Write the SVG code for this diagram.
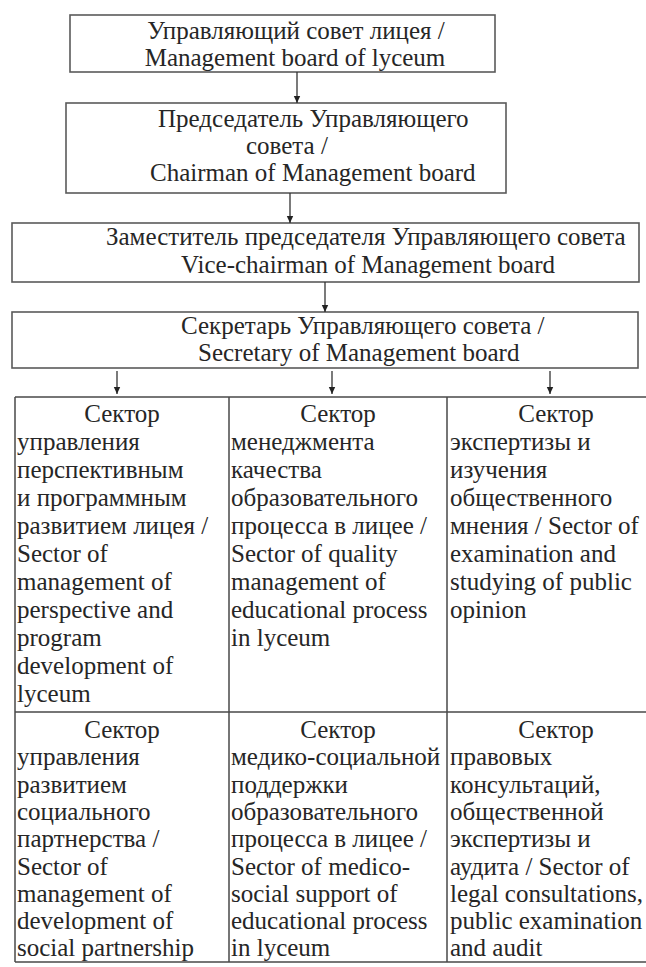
<svg xmlns="http://www.w3.org/2000/svg" width="646" height="967" viewBox="0 0 646 967">
  <style>
    text { font-family: "Liberation Serif", "Times New Roman", serif; font-size: 25px; fill: #262626; }
    .mid { text-anchor: middle; }
    .box { fill: #ffffff; stroke: #5a5a5a; stroke-width: 1.6; }
    .grid { stroke: #4a4a4a; stroke-width: 1.5; fill: none; }
    .link { stroke: #333333; stroke-width: 1.3; fill: none; marker-end: url(#arrow); }
  </style>
  <defs>
    <marker id="arrow" markerUnits="userSpaceOnUse" markerWidth="8" markerHeight="8" refX="7" refY="4" orient="auto">
      <path d="M0,0.8 L7,4 L0,7.2 z" fill="#222222"/>
    </marker>
  </defs>

  <rect width="646" height="967" fill="#ffffff"/>

  <!-- hierarchy of the board -->
  <g id="board">
    <rect class="box" x="70" y="15" width="425" height="57"/>
    <text class="mid" x="296" y="39">Управляющий совет лицея /</text>
    <text class="mid" x="295" y="66">Management board of lyceum</text>
  </g>

  <g id="chairman">
    <rect class="box" x="66" y="103" width="440" height="90"/>
    <text x="158" y="127">Председатель Управляющего</text>
    <text x="246" y="154">совета /</text>
    <text x="150" y="181">Chairman of Management board</text>
  </g>

  <g id="vice-chairman">
    <rect class="box" x="12" y="223" width="627" height="59"/>
    <text x="106" y="245">Заместитель председателя Управляющего совета</text>
    <text x="181" y="273">Vice-chairman of Management board</text>
  </g>

  <g id="secretary">
    <rect class="box" x="12" y="312" width="626" height="56"/>
    <text x="181" y="334">Секретарь Управляющего совета /</text>
    <text x="198" y="361">Secretary of Management board</text>
  </g>

  <!-- connectors -->
  <g id="connectors">
    <line class="link" x1="297" y1="72" x2="297" y2="103"/>
    <line class="link" x1="290" y1="193" x2="290" y2="223"/>
    <line class="link" x1="325" y1="282" x2="325" y2="312"/>
    <line class="link" x1="117" y1="371" x2="117" y2="394"/>
    <line class="link" x1="332" y1="371" x2="332" y2="394"/>
    <line class="link" x1="550" y1="371" x2="550" y2="394"/>
  </g>

  <!-- table of sectors -->
  <g id="sector-grid">
    <path class="grid" d="M15,397 H646 M15,397 V962 M15,962 H646 M229,397 V962 M447,397 V962 M15,712 H646"/>
  </g>

  <g id="sector-perspective">
    <text class="mid" x="122" y="422">Сектор</text>
    <text x="17">
      <tspan x="17" y="450">управления</tspan>
      <tspan x="17" y="478">перспективным</tspan>
      <tspan x="17" y="506">и программным</tspan>
      <tspan x="17" y="534">развитием лицея /</tspan>
      <tspan x="17" y="562">Sector of</tspan>
      <tspan x="17" y="590">management of</tspan>
      <tspan x="17" y="618">perspective and</tspan>
      <tspan x="17" y="646">program</tspan>
      <tspan x="17" y="674">development of</tspan>
      <tspan x="17" y="702">lyceum</tspan>
    </text>
  </g>

  <g id="sector-quality">
    <text class="mid" x="338" y="422">Сектор</text>
    <text x="231">
      <tspan x="231" y="450">менеджмента</tspan>
      <tspan x="231" y="478">качества</tspan>
      <tspan x="231" y="506">образовательного</tspan>
      <tspan x="231" y="534">процесса в лицее /</tspan>
      <tspan x="231" y="562">Sector of quality</tspan>
      <tspan x="231" y="590">management of</tspan>
      <tspan x="231" y="618">educational process</tspan>
      <tspan x="231" y="646">in lyceum</tspan>
    </text>
  </g>

  <g id="sector-opinion">
    <text class="mid" x="556" y="422">Сектор</text>
    <text x="450">
      <tspan x="450" y="450">экспертизы и</tspan>
      <tspan x="450" y="478">изучения</tspan>
      <tspan x="450" y="506">общественного</tspan>
      <tspan x="450" y="534">мнения / Sector of</tspan>
      <tspan x="450" y="562">examination and</tspan>
      <tspan x="450" y="590">studying of public</tspan>
      <tspan x="450" y="618">opinion</tspan>
    </text>
  </g>

  <g id="sector-partnership">
    <text class="mid" x="122" y="738">Сектор</text>
    <text x="17">
      <tspan x="17" y="765.3">управления</tspan>
      <tspan x="17" y="792.6">развитием</tspan>
      <tspan x="17" y="819.9">социального</tspan>
      <tspan x="17" y="847.2">партнерства /</tspan>
      <tspan x="17" y="874.5">Sector of</tspan>
      <tspan x="17" y="901.8">management of</tspan>
      <tspan x="17" y="929.1">development of</tspan>
      <tspan x="17" y="956.4">social partnership</tspan>
    </text>
  </g>

  <g id="sector-medical">
    <text class="mid" x="338" y="738">Сектор</text>
    <text x="231">
      <tspan x="231" y="765.3">медико-социальной</tspan>
      <tspan x="231" y="792.6">поддержки</tspan>
      <tspan x="231" y="819.9">образовательного</tspan>
      <tspan x="231" y="847.2">процесса в лицее /</tspan>
      <tspan x="231" y="874.5">Sector of medico-</tspan>
      <tspan x="231" y="901.8">social support of</tspan>
      <tspan x="231" y="929.1">educational process</tspan>
      <tspan x="231" y="956.4">in lyceum</tspan>
    </text>
  </g>

  <g id="sector-legal">
    <text class="mid" x="556" y="738">Сектор</text>
    <text x="450">
      <tspan x="450" y="765.3">правовых</tspan>
      <tspan x="450" y="792.6">консультаций,</tspan>
      <tspan x="450" y="819.9">общественной</tspan>
      <tspan x="450" y="847.2">экспертизы и</tspan>
      <tspan x="450" y="874.5">аудита / Sector of</tspan>
      <tspan x="450" y="901.8">legal consultations,</tspan>
      <tspan x="450" y="929.1">public examination</tspan>
      <tspan x="450" y="956.4">and audit</tspan>
    </text>
  </g>
</svg>
